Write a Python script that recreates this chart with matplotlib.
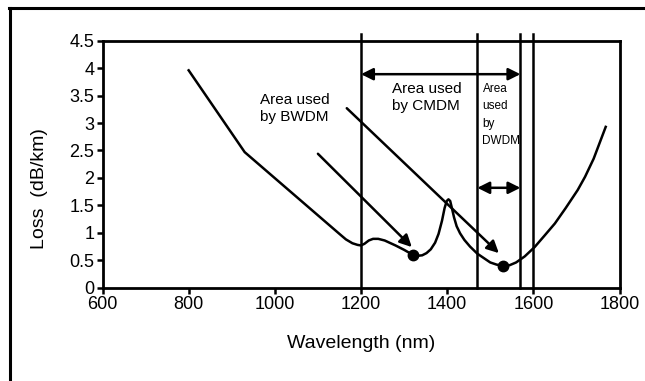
import matplotlib
matplotlib.use("Agg")
import matplotlib.pyplot as plt
from matplotlib.lines import Line2D

plt.rcParams['font.family'] = ['Liberation Sans', 'DejaVu Sans']

# Fibre attenuation curve (wavelength in nm, loss in dB/km)
wavelength = [800, 930, 1150, 1165, 1180, 1192, 1200, 1208, 1218, 1228, 1240,
              1255, 1280, 1300, 1320, 1330, 1342, 1352, 1362, 1372, 1380, 1388,
              1394, 1399, 1403, 1407, 1411, 1416, 1422, 1430, 1440, 1453, 1470,
              1500, 1515, 1530, 1545, 1560, 1580, 1603, 1625, 1650, 1675, 1703,
              1720, 1740, 1768]
loss = [3.96, 2.47, 0.98, 0.88, 0.81, 0.78, 0.77, 0.80, 0.86, 0.89, 0.89,
        0.86, 0.77, 0.69, 0.60, 0.58, 0.59, 0.63, 0.70, 0.82, 0.98, 1.22,
        1.45, 1.58, 1.61, 1.58, 1.45, 1.28, 1.12, 0.99, 0.87, 0.75, 0.62,
        0.46, 0.42, 0.40, 0.41, 0.46, 0.57, 0.74, 0.94, 1.17, 1.45, 1.78,
        2.02, 2.35, 2.93]

# Low-loss windows marked with dots
window_wl = [1320, 1530]
window_loss = [0.60, 0.40]

# Band boundaries
band_edges = [1200, 1470, 1570, 1600]

x_ticks = [600, 800, 1000, 1200, 1400, 1600, 1800]
y_ticks = [0, 0.5, 1, 1.5, 2, 2.5, 3, 3.5, 4, 4.5]
y_tick_labels = ['0', '0.5', '1', '1.5', '2', '2.5', '3', '3.5', '4', '4.5']

fig = plt.figure(figsize=(6.45, 3.81), dpi=100)
ax = fig.add_axes([102.5 / 645, 1 - 287.7 / 381, 517 / 645, 247 / 381])

ax.plot(wavelength, loss, color='black', lw=1.8, solid_joinstyle='round')
ax.plot(window_wl, window_loss, 'o', color='black', ms=7.5)

for xb in band_edges:
    ax.plot([xb, xb], [0, 4.62], color='black', lw=1.8, clip_on=False)

arrow_kw = dict(color='black', lw=1.8, shrinkA=0, shrinkB=0, mutation_scale=18)

# Horizontal band arrows
ax.annotate('', xy=(1570, 3.89), xytext=(1200, 3.89),
            arrowprops=dict(arrowstyle='<|-|>', **arrow_kw))
ax.annotate('', xy=(1570, 1.82), xytext=(1470, 1.82),
            arrowprops=dict(arrowstyle='<|-|>', **arrow_kw))

# Pointer arrows to the low-loss windows
ax.annotate('', xy=(1318, 0.74), xytext=(1100, 2.44),
            arrowprops=dict(arrowstyle='-|>', **arrow_kw))
ax.annotate('', xy=(1520, 0.63), xytext=(1167, 3.27),
            arrowprops=dict(arrowstyle='-|>', **arrow_kw))

ax.text(966, 3.27, 'Area used\nby BWDM', ha='left', va='center', fontsize=11,
        linespacing=1.25)
ax.text(1272, 3.47, 'Area used\nby CMDM', ha='left', va='center', fontsize=11,
        linespacing=1.25)
ax.text(1482, 3.15, 'Area\nused\nby\nDWDM', ha='left', va='center', fontsize=8.5,
        linespacing=1.6)

ax.set_xlim(600, 1800)
ax.set_ylim(0, 4.5)
ax.set_xticks(x_ticks)
ax.set_yticks(y_ticks)
ax.set_yticklabels(y_tick_labels)
ax.tick_params(axis='both', direction='out', length=4, width=1.8,
               labelsize=13, pad=2, colors='black')
for s in ax.spines.values():
    s.set_linewidth(2.0)

ax.set_xlabel('Wavelength (nm)', fontsize=14, va='center')
ax.xaxis.set_label_coords(0.5, (287.7 - 343) / 247)
ax.set_ylabel('Loss  (dB/km)', fontsize=14, va='center', ha='center')
ax.yaxis.set_label_coords((39 - 102.5) / 517, (287.7 - 189) / 247)

# Frame around the figure (open to the right and bottom)
fig.add_artist(Line2D([10 / 645, 10 / 645], [0, 1 - 7.5 / 381],
                      transform=fig.transFigure, color='black', lw=2.2))
fig.add_artist(Line2D([8.9 / 645, 1], [1 - 7.5 / 381, 1 - 7.5 / 381],
                      transform=fig.transFigure, color='black', lw=2.2))

fig.savefig('out.png', dpi=100)
